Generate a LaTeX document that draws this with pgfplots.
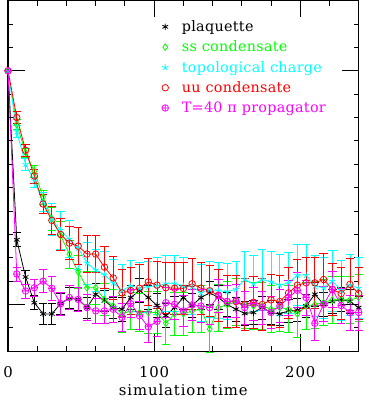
\documentclass[border=0pt]{standalone}
\usepackage{pgfplots}
\pgfplotsset{compat=1.18}
\usepackage{pgfplotstable}
\usepackage{fontspec}
\setmainfont{DejaVu Serif}
\newfontfamily\labelfont{DejaVu Serif}[LetterSpace=6]
\newfontfamily\legfont{DejaVu Serif}[LetterSpace=2]

\definecolor{pgreen}{RGB}{0,255,0}
\definecolor{pcyan}{RGB}{0,255,255}
\definecolor{pred}{RGB}{255,0,0}
\definecolor{pmagenta}{RGB}{255,0,255}

% autocorrelation vs simulation time, step 6
\pgfplotstableread{
x   b      be    g      ge    c      ce    r      re    m      me
0   1.000  0     1.000  0     1.000  0     1.000  0     1.000  0
6   0.277  0.03  0.770  0.02  0.740  0.025 0.800  0.025 0.131  0.03
12  0.118  0.03  0.650  0.02  0.600  0.025 0.660  0.025 0.058  0.03
18  0.008  0.03  0.570  0.025 0.530  0.03  0.550  0.03  0.072  0.035
24  -0.040 0.045 0.460  0.03  0.440  0.04  0.430  0.04  0.100  0.05
30  -0.040 0.045 0.366  0.05  0.364  0.07  0.360  0.06  0.069  0.05
36  0.004  0.045 0.295  0.06  0.318  0.08  0.300  0.07  0.004  0.05
42  0.027  0.045 0.216  0.06  0.280  0.08  0.263  0.07  0.030  0.05
48  0.022  0.045 0.140  0.07  0.242  0.09  0.250  0.08  0.022  0.05
54  -0.013 0.045 0.072  0.07  0.178  0.09  0.216  0.08  -0.013 0.055
60  0.044  0.045 0.072  0.07  0.148  0.09  0.216  0.08  -0.027 0.055
66  0.016  0.045 0.022  0.07  0.127  0.10  0.160  0.09  -0.027 0.055
72  -0.013 0.045 -0.006 0.07  0.093  0.10  0.114  0.09  -0.020 0.055
78  -0.020 0.05  -0.040 0.08  0.060  0.11  0.050  0.10  -0.055 0.06
84  0.030  0.05  -0.027 0.08  0.080  0.11  0.060  0.10  0.004  0.06
90  0.060  0.05  -0.034 0.08  0.070  0.11  0.070  0.10  -0.048 0.06
96  0.030  0.05  -0.034 0.09  0.076  0.11  0.097  0.10  -0.095 0.065
102 -0.004 0.05  -0.034 0.09  0.080  0.12  0.083  0.10  -0.072 0.065
108 -0.047 0.05  -0.080 0.09  0.089  0.12  0.072  0.11  0.008  0.065
114 -0.013 0.05  -0.040 0.09  0.089  0.12  0.070  0.11  0.001  0.065
120 0.030  0.05  -0.040 0.09  0.080  0.12  0.069  0.11  -0.027 0.065
126 -0.004 0.05  -0.027 0.09  0.076  0.12  0.089  0.11  -0.001 0.065
132 0.030  0.05  -0.020 0.10  0.050  0.12  0.070  0.11  -0.006 0.07
138 0.050  0.05  -0.105 0.10  0.065  0.12  0.059  0.11  -0.013 0.07
144 0.030  0.05  -0.013 0.10  0.059  0.12  0.040  0.11  0.037  0.07
150 0.000  0.05  0.000  0.10  0.055  0.12  0.013  0.11  0.013  0.07
156 -0.020 0.05  0.010  0.10  0.065  0.12  0.013  0.11  0.016  0.07
162 -0.038 0.05  0.000  0.10  0.107  0.12  0.000  0.11  -0.013 0.07
168 -0.034 0.05  -0.006 0.10  0.089  0.12  0.010  0.11  0.004  0.07
174 -0.013 0.05  -0.006 0.10  0.107  0.13  0.000  0.11  -0.013 0.07
180 -0.034 0.05  -0.020 0.10  0.097  0.13  0.020  0.11  -0.034 0.07
186 -0.040 0.05  -0.013 0.10  0.083  0.13  0.013  0.11  -0.006 0.07
192 -0.027 0.05  -0.020 0.10  0.093  0.13  0.050  0.11  0.030  0.075
198 -0.024 0.05  -0.040 0.10  0.126  0.13  0.083  0.11  0.061  0.075
204 -0.006 0.05  -0.006 0.10  0.126  0.13  0.093  0.11  0.030  0.075
210 0.044  0.05  0.000  0.10  0.079  0.13  0.093  0.11  -0.080 0.075
216 0.001  0.05  0.009  0.10  0.072  0.13  0.107  0.11  0.001  0.075
222 0.013  0.05  0.020  0.10  0.100  0.13  0.065  0.11  0.065  0.075
228 0.022  0.05  0.020  0.10  0.061  0.13  0.047  0.11  -0.004 0.075
234 0.013  0.05  0.020  0.10  0.083  0.13  0.086  0.11  -0.034 0.075
240 -0.013 0.05  0.030  0.10  0.070  0.13  0.047  0.11  -0.034 0.075
}\autocorr

\begin{document}
\begin{tikzpicture}
\begin{axis}[
    at={(0,0)}, anchor=south west,
    scale only axis,
    width=354pt, height=354pt,
    xmin=0, xmax=240,
    ymin=-0.2, ymax=1.3,
    xtick={0,100,200},
    minor xtick={20,40,60,80,120,140,160,180,220,240},
    ytick={0,1},
    minor ytick={-0.1,0.1,0.2,0.3,0.4,0.5,0.6,0.7,0.8,0.9,1.1,1.2},
    yticklabels={},
    major tick length=17pt,
    minor tick length=5pt,
    tick style={black, line width=0.9pt},
    axis line style={line width=1.3pt},
    font=\labelfont\fontsize{15}{18}\selectfont,
    xticklabel style={anchor=center, yshift=-21pt},
    xlabel={simulation time},
    xlabel style={at={(axis description cs:0.5,0)}, anchor=center, yshift=-39pt},
    /pgf/number format/assume math mode=true,
    clip=false,
    every axis plot/.append style={line width=0.8pt, mark size=3.3pt},
    error bars/error bar style={line width=0.8pt},
    error bars/error mark options={rotate=90, mark size=4.2pt, line width=0.8pt},
    legend style={draw=none, fill=none, at={(rel axis cs:0.43,0.955)}, anchor=north west,
        font=\legfont\fontsize{14.5}{17}\selectfont, row sep=4pt},
    legend cell align=left,
    legend image code/.code={\draw[#1] plot coordinates {(0cm,0cm)}; \path[draw=none] (0cm,0cm) -- (0.52cm,0cm);},
]
\addplot[black, mark=asterisk, forget plot, error bars/.cd, y dir=both, y explicit]
    table[x=x, y=b, y error=be] {\autocorr};
\addplot[pgreen, mark=diamond, forget plot, error bars/.cd, y dir=both, y explicit]
    table[x=x, y=g, y error=ge] {\autocorr};
\addplot[pcyan, mark=star, forget plot, error bars/.cd, y dir=both, y explicit]
    table[x=x, y=c, y error=ce] {\autocorr};
\addplot[pred, mark=o, forget plot, error bars/.cd, y dir=both, y explicit]
    table[x=x, y=r, y error=re] {\autocorr};
\addplot[pmagenta, mark=oplus, forget plot, error bars/.cd, y dir=both, y explicit]
    table[x=x, y=m, y error=me] {\autocorr};

\addlegendimage{black, only marks, mark=asterisk, mark size=3.3pt, line width=0.8pt}
\addlegendentry{\textcolor{black}{plaquette}}
\addlegendimage{pgreen, only marks, mark=diamond, mark size=3.3pt, line width=0.8pt}
\addlegendentry{\textcolor{pgreen}{ss condensate}}
\addlegendimage{pcyan, only marks, mark=star, mark size=3.3pt, line width=0.8pt}
\addlegendentry{\textcolor{pcyan}{topological charge}}
\addlegendimage{pred, only marks, mark=o, mark size=3.3pt, line width=0.8pt}
\addlegendentry{\textcolor{pred}{uu condensate}}
\addlegendimage{pmagenta, only marks, mark=oplus, mark size=3.3pt, line width=0.8pt}
\addlegendentry{\textcolor{pmagenta}{T=40 π propagator}}
\end{axis}
\path[use as bounding box] (-3pt,-45pt) rectangle (357pt,354.5pt);
\end{tikzpicture}
\end{document}
